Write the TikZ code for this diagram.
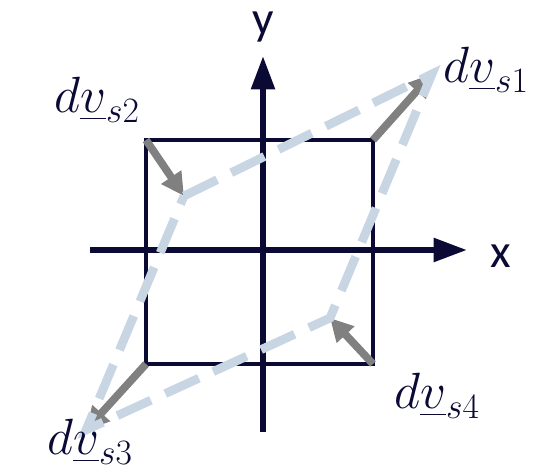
\RequirePackage{fix-cm}
\documentclass[tikz,border=0pt]{standalone}
\usepackage{fontspec}
\newfontfamily\axisfont{Carlito}
\usepackage{amsmath}
\usetikzlibrary{arrows.meta}
\definecolor{navy}{RGB}{10,10,52}
\definecolor{deformblue}{RGB}{200,213,226}
\definecolor{movegray}{RGB}{128,128,128}
\tikzset{
  axis/.style    = {draw=navy, line width=3.4pt, -{Triangle[length=19pt, width=13pt]}},
  element/.style = {draw=navy, line width=2.6pt, line join=miter},
  deformed/.style = {draw=deformblue, line width=5pt, dash pattern=on 21pt off 9pt},
  move/.style    = {draw=movegray, line width=4.4pt, -{Triangle[length=13pt, width=13pt]}},
  vlabel/.style  = {text=navy, font=\fontsize{29}{32}\selectfont},
  alabel/.style  = {text=navy, font=\axisfont\fontsize{27}{30}\selectfont},
}

\begin{document}
\begin{tikzpicture}[x=0.02cm, y=-0.02cm]
    \useasboundingbox (0,0) rectangle (533,472);

    % axes
    \coordinate (xs) at (90,250);
    \coordinate (xe) at (467,250);
    \coordinate (ys) at (263,432);
    \coordinate (ye) at (263,56);

    % undeformed element corners
    \coordinate (n1) at (373,140);
    \coordinate (n2) at (146,140);
    \coordinate (n3) at (146,364);
    \coordinate (n4) at (373,364);

    % deformed element corners
    \coordinate (m1) at (432,74);
    \coordinate (m2) at (184,196);
    \coordinate (m3) at (86,430);
    \coordinate (m4) at (330,318);

    \draw[element] (n1) -- (n2) -- (n3) -- (n4) -- cycle;
    \draw[axis] (xs) -- (xe);
    \draw[axis] (ys) -- (ye);

    % nodal displacements
    \draw[move] (n1) -- (m1);
    \draw[move] (n2) -- (m2);
    \draw[move] (n3) -- (m3);
    \draw[move] (n4) -- (m4);

    \draw[deformed] (m2) -- (m1) -- (m4) -- (m3) -- cycle;

    % labels
    \node[alabel] (ylab) at (263,27) {y};
    \node[alabel] (xlab) at (501,256) {x};
    \node[vlabel] (s1) at (486,70) {$d\underline{v}_{s1}$};
    \node[vlabel] (s2) at (97,100) {$d\underline{v}_{s2}$};
    \node[vlabel] (s3) at (90,442) {$d\underline{v}_{s3}$};
    \node[vlabel] (s4) at (437,396) {$d\underline{v}_{s4}$};
\end{tikzpicture}
\end{document}
